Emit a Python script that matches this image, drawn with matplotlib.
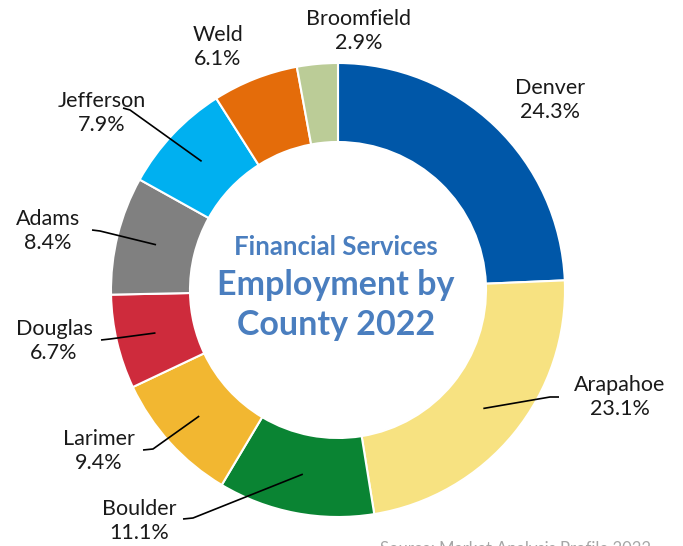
import matplotlib
matplotlib.use('Agg')
import matplotlib.pyplot as plt
import numpy as np

plt.rcParams['font.family'] = ['Lato', 'DejaVu Sans']

# data, clockwise from the top
counties = ['Denver', 'Arapahoe', 'Boulder', 'Larimer', 'Douglas',
            'Adams', 'Jefferson', 'Weld', 'Broomfield']
shares = [24.3, 23.1, 11.1, 9.4, 6.7, 8.4, 7.9, 6.1, 2.9]
colors = ['#0057A8', '#F7E281', '#0A8433', '#F2B731', '#CE2B3C',
          '#808080', '#00B0F0', '#E46C0A', '#BBCC97']

# label layout in pixels (x, y from top), elbow of leader line, end of leader
label_pos = {
    'Denver': (550, 100, None, None),
    'Arapahoe': (620, 397, (550, 397), (559, 397)),
    'Boulder': (139, 521, (193, 518), (183, 519)),
    'Larimer': (99, 451, (153, 449), (143, 450)),
    'Douglas': (54, 341, (110, 339), (101, 340)),
    'Adams': (48, 231, (100, 231), (92, 230)),
    'Jefferson': (102, 113, (130, 110), (123, 108)),
    'Weld': (218, 47, None, None),
    'Broomfield': (359, 31, None, None),
}

W, H = 683, 546
fig = plt.figure(figsize=(W / 100, H / 100), dpi=100)
ax = fig.add_axes([0, 0, 1, 1])

cx, cy = 338, H - 290
r_out, r_in = 227, 148
ax.pie(shares, colors=colors, startangle=90, counterclock=False,
       radius=r_out, center=(cx, cy), frame=True,
       wedgeprops=dict(width=r_out - r_in, edgecolor='white', linewidth=1.5))
ax.set_xlim(0, W)
ax.set_ylim(0, H)
ax.set_aspect('equal')
ax.axis('off')

# leader lines and labels
total = sum(shares)
cum = 0
r_mid = (r_out + r_in) / 2
for name, val in zip(counties, shares):
    mid = np.deg2rad(90 - (cum + val / 2) / total * 360)
    cum += val
    tx, ty, elbow, end = label_pos[name]
    if elbow is not None:
        px = cx + r_mid * np.cos(mid)
        py = cy + r_mid * np.sin(mid)
        ax.plot([px, elbow[0], end[0]], [py, H - elbow[1], H - end[1]],
                color='black', lw=1.2, solid_capstyle='butt')
    ax.text(tx, H - ty, f'{name}\n{val:.1f}%', ha='center', va='center',
            fontsize=15.5, color='#1a1a1a', linespacing=1.2)

# center title
title_color = '#4A7EBF'
ax.text(cx - 2, H - 247, 'Financial Services', ha='center', va='center',
        fontsize=18.5, fontweight='bold', color=title_color)
ax.text(cx - 2, H - 285, 'Employment by', ha='center', va='center',
        fontsize=24.5, fontweight='bold', color=title_color)
ax.text(cx - 2, H - 325, 'County 2022', ha='center', va='center',
        fontsize=24.5, fontweight='bold', color=title_color)

# source note, cut off at the bottom edge
ax.text(380, H - 541, 'Source: Market Analysis Profile 2022', ha='left', va='top',
        fontsize=12, color='#A6A6A6')

fig.savefig('out.png', dpi=100)
